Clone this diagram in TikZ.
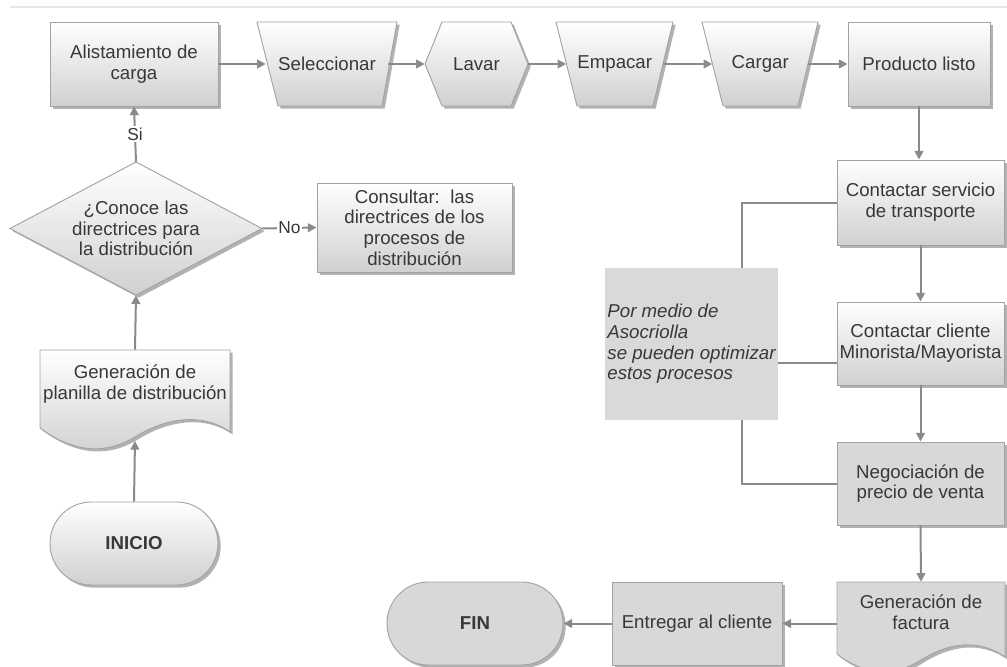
\documentclass[tikz,border=0pt]{standalone}
\usepackage{fontspec}
\setmainfont{Liberation Sans}
\usetikzlibrary{arrows.meta,shadows,calc}
\definecolor{bordc}{HTML}{A3A3A3}
\definecolor{boxbot}{HTML}{D0D0D0}
\definecolor{boxgray}{HTML}{D8D8D8}
\definecolor{txtc}{HTML}{383838}
\definecolor{linec}{HTML}{8A8A8A}
\definecolor{notec}{HTML}{D9D9D9}
\definecolor{topline}{HTML}{E6E6E6}
\tikzset{
  shad/.style={drop shadow={shadow xshift=2pt,shadow yshift=-2pt,opacity=0.3,fill=black}},
  gbox/.style={draw=bordc,line width=0.7pt,top color=white,bottom color=boxbot,shad},
  sbox/.style={draw=bordc,line width=0.7pt,fill=boxgray,shad},
  txt/.style={font=\fontsize{14}{15.5}\selectfont,text=txtc,align=center,inner sep=0pt},
  ghost/.style={txt,draw=none,fill=none,minimum height=63pt},
  conn/.style={draw=linec,line width=1.5pt},
  arr/.style={conn,-{Triangle[length=6.5pt,width=6.5pt]}},
  lbl/.style={font=\fontsize{13}{14}\selectfont,text=txtc,fill=white,inner sep=1pt},
}
\begin{document}
\begin{tikzpicture}[x=0.75pt,y=-0.75pt]
\useasboundingbox (0,0) rectangle (1007,667);
\draw[topline,line width=1pt] (10,7) -- (1007,7);

% ---- top row
\node[gbox,txt,minimum width=126pt,minimum height=63pt] (alist) at (134,64) {Alistamiento de\\carga};
\path[gbox] (257,22) -- (397,22) -- (382,106) -- (278,106) -- cycle;
\node[ghost,minimum width=91.5pt] (sel) at (327,64) {Seleccionar};
\path[gbox] (425,64) -- (442,22) -- (511,22) -- (528,64) -- (511,106) -- (442,106) -- cycle;
\node[ghost,minimum width=77.25pt] (lavar) at (476.5,64) {Lavar};
\path[gbox] (556,22) -- (673,22) -- (653,106) -- (577,106) -- cycle;
\node[ghost,minimum width=72.4pt] (emp) at (614.75,64) {Empacar};
\path[gbox] (702,22) -- (818,22) -- (798,106) -- (723,106) -- cycle;
\node[ghost,minimum width=71.6pt] (carg) at (760.25,64) {Cargar};
\node[gbox,txt,minimum width=106.5pt,minimum height=63pt] (prod) at (919,64) {Producto listo};

% ---- right column
\node[gbox,txt,minimum width=125.25pt,minimum height=63.75pt] (cserv) at (920.5,202.5) {Contactar servicio\\de transporte};
\node[gbox,txt,minimum width=125.25pt,minimum height=62.25pt] (ccli) at (920.5,343.5) {Contactar cliente\\Minorista/Mayorista};
\node[sbox,txt,minimum width=125.25pt,minimum height=62.25pt] (nego) at (920.5,483.5) {Negociación de\\precio de venta};
\path[sbox] (837,582) -- (1005,582) -- (1005,657) .. controls (978,638) and (948,643) .. (921,660) .. controls (893,678) and (862,674) .. (837,654) -- cycle;
\node[ghost,minimum width=126pt,minimum height=45pt] (fact) at (921,612) {Generación de\\factura};
\node[sbox,txt,minimum width=127.5pt,minimum height=62.25pt] (entr) at (697,623.5) {Entregar al cliente};
\node[sbox,txt,minimum width=132pt,minimum height=62.25pt,rounded corners=31pt,font=\bfseries\fontsize{14}{15.5}\selectfont] (fin) at (475,623.5) {FIN};

% ---- note
\node[fill=notec,txt,align=left,minimum width=129.75pt,minimum height=114pt,font=\itshape\fontsize{14}{15.5}\selectfont] (note) at (691.5,344) {Por medio de\\Asocriolla\\se pueden optimizar\\estos procesos};
\coordinate (n1) at (742,268);
\coordinate (n2) at (742,420);
\coordinate (ccliL) at (837,363);

% ---- left column
\node[gbox,txt,minimum width=126pt,minimum height=62.25pt,rounded corners=31pt,font=\bfseries\fontsize{14}{15.5}\selectfont] (ini) at (134,543.5) {INICIO};
\path[gbox] (40,350) -- (230,350) -- (230,432) .. controls (202,412) and (165,418) .. (135,437) .. controls (102,457) and (70,450) .. (40,428) -- cycle;
\node[ghost,minimum width=142.5pt,minimum height=51pt] (plan) at (135,384) {Generación de\\planilla de distribución};
\coordinate (planb) at (135,441);
\path[gbox] (10,228.5) -- (136,162) -- (262,228.5) -- (136,295) -- cycle;
\node[ghost,minimum width=189pt,minimum height=99.75pt] (dia) at (136,228.5) {¿Conoce las\\directrices para\\la distribución};
\node[gbox,txt,minimum width=146.25pt,minimum height=66.75pt] (cons) at (414.5,227.5) {Consultar:\ \ las\\directrices de los\\procesos de\\distribución};

% ---- connectors
\draw[arr] (alist.east) -- (sel.west);
\draw[arr] (sel.east) -- (lavar.west);
\draw[arr] (lavar.east) -- (emp.west);
\draw[arr] (emp.east) -- (carg.west);
\draw[arr] (carg.east) -- (prod.west);
\draw[arr] (prod.south) -- (prod.south |- cserv.north);
\draw[arr] (cserv.south) -- (ccli.north);
\draw[arr] (ccli.south) -- (nego.north);
\draw[arr] (nego.south) -- (fact.north);
\draw[arr] (fact.west |- entr.east) -- (entr.east);
\draw[arr] (entr.west) -- (fin.east);
\draw[conn] (cserv.west) -| (n1);
\draw[conn] (ccliL) -- (note.east |- ccliL);
\draw[conn] (n2) |- (nego.west);
\draw[arr] (ini.north) -- (planb);
\draw[arr] (plan.north) -- (dia.south);
\draw[arr] (dia.north) -- node[lbl] {Si} (alist.south);
\draw[arr] (dia.east) -- node[lbl] {No} (cons.west);
\end{tikzpicture}
\end{document}
